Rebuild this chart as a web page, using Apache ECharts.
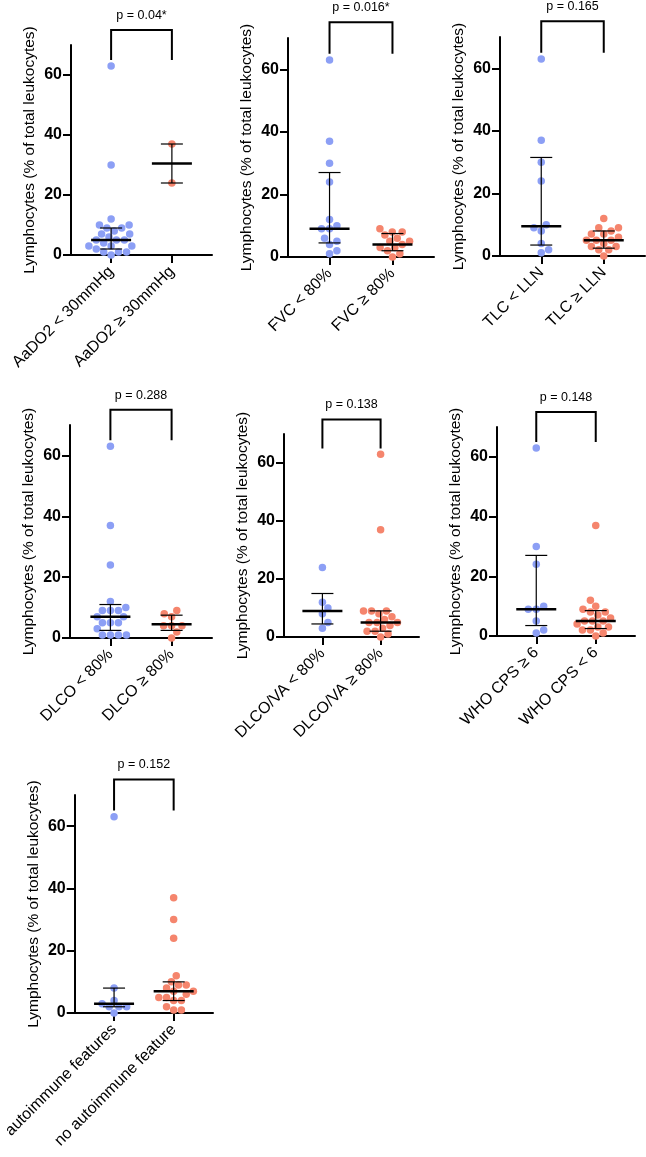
<!DOCTYPE html>
<html>
<head>
<meta charset="utf-8">
<script src="https://cdn.jsdelivr.net/npm/echarts@6/dist/echarts.min.js"></script>
<style>
html, body { margin: 0; padding: 0; background: #fff; }
#chart { width: 646px; height: 1157px; }
</style>
</head>
<body>
<div id="chart"></div>
<script>
// data
var groupNames = [
	['AaDO2 < 30mmHg', 'AaDO2 ≥ 30mmHg'],
	['FVC < 80%', 'FVC ≥ 80%'],
	['TLC < LLN', 'TLC ≥ LLN'],
	['DLCO < 80%', 'DLCO ≥ 80%'],
	['DLCO/VA < 80%', 'DLCO/VA ≥ 80%'],
	['WHO CPS ≥ 6', 'WHO CPS < 6'],
	['autoimmune features', 'no autoimmune feature']
];
var pLabels = ['p = 0.04*', 'p = 0.016*', 'p = 0.165', 'p = 0.288', 'p = 0.138', 'p = 0.148', 'p = 0.152'];

var blueValues = [
	[63, 30, 12, 10, 10, 9, 9, 8, 7, 7, 6, 5, 5, 5, 4, 3, 3, 3, 2, 1, 1, 1, 0],
	[63, 37, 30, 24, 12, 10, 9, 9, 6, 5, 4, 2, 1],
	[63, 37, 30, 24, 10, 9, 8, 4, 2, 1],
	[63, 37, 24, 12, 10, 9, 9, 9, 7, 7, 5, 5, 5, 3, 1, 1, 1, 1],
	[24, 12, 10, 8, 5, 3],
	[63, 30, 24, 10, 9, 9, 5, 2, 1],
	[63, 8, 4, 3, 2, 2, 2, 0]
];
var redValues = [
	[37, 24],
	[9, 8, 8, 7, 6, 5, 5, 4, 3, 3, 2, 1, 0],
	[12, 9, 9, 8, 7, 7, 6, 5, 5, 5, 4, 3, 3, 2, 2, 0],
	[9, 8, 7, 4, 4, 4, 2, 0],
	[63, 37, 9, 9, 9, 8, 7, 6, 5, 5, 5, 4, 3, 2, 2, 1, 0],
	[37, 12, 10, 9, 8, 8, 7, 6, 5, 5, 5, 4, 3, 3, 2, 2, 1, 0],
	[37, 30, 24, 12, 10, 9, 9, 8, 7, 7, 6, 5, 5, 4, 4, 2, 1, 1]
];
var medians = [[5, 30.5], [9, 4], [9.5, 5], [7, 4.5], [9, 5], [9, 5], [3, 7]];
var lowerBars = [[2, 24], [4.5, 2], [3.5, 2.5], [2.5, 2.5], [4.5, 2], [3.5, 2.5], [2, 4]];
var upperBars = [[9, 37], [27, 7.5], [31.5, 8], [11, 7.5], [15, 9], [27, 8.5], [8, 10]];
var yTicks = [0, 20, 40, 60];
var bracketLow = 65, bracketHigh = 75;

// panel placement (pixels)
var grids = [
	{ left: 71, top: 45, width: 141, height: 210 },
	{ left: 288, top: 38, width: 146, height: 219 },
	{ left: 500, top: 37, width: 145, height: 219 },
	{ left: 70, top: 425, width: 142, height: 213 },
	{ left: 284, top: 434, width: 135, height: 203 },
	{ left: 497, top: 427, width: 138, height: 209 },
	{ left: 70, top: 795, width: 143, height: 218 }
];

var FONT = 'Liberation Sans, Arial, Helvetica, sans-serif';
var BLUE = '#8c9ff5';
var RED = '#f5856d';
var X_MIN = 0.34, X_MAX = 2.66, Y_MAX = 70;

// simple beeswarm: horizontal offsets (data units) so dots do not overlap
var swarm = function(values, pxX, pxY) {
	var D = 8;
	var order = values.map(function(v, i) { return i; }).sort(function(a, b) { return values[a] - values[b]; });
	var placed = [];
	var offs = [];
	order.forEach(function(i, n) {
		var y = values[i] * pxY;
		var blocked = [];
		placed.forEach(function(p) {
			var dy = Math.abs(p.y - y);
			if (dy < D) {
				var dx = Math.sqrt(D * D - dy * dy);
				blocked.push([p.x - dx, p.x + dx]);
			}
		});
		var cands = [0];
		blocked.forEach(function(b) { cands.push(b[0], b[1]); });
		// near-ties go to alternating sides
		var side = n % 2 ? 1 : -1;
		cands.sort(function(a, b) {
			var d = Math.abs(a) - Math.abs(b);
			return Math.abs(d) > 0.5 ? d : (b - a) * side;
		});
		var x = 0;
		for (var k = 0; k < cands.length; k++) {
			var c = cands[k];
			var ok = blocked.every(function(b) { return c <= b[0] + 1e-6 || c >= b[1] - 1e-6; });
			if (ok) { x = c; break; }
		}
		placed.push({ x: x, y: y });
		offs[i] = x / pxX;
	});
	return offs;
};

var option = {
	backgroundColor: '#fff',
	animation: false,
	textStyle: { fontFamily: FONT, color: '#000' },
	grid: [], xAxis: [], yAxis: [], series: []
};

grids.forEach(function(g, i) {
	option.grid.push({ left: g.left, top: g.top, width: g.width, height: g.height, containLabel: false });
	var names = groupNames[i];
	option.xAxis.push({
		type: 'value', gridIndex: i, min: X_MIN, max: X_MAX,
		splitLine: { show: false },
		axisLine: { show: true, lineStyle: { color: '#000', width: 2 } },
		axisTick: { show: true, customValues: [1, 2], length: 8, lineStyle: { color: '#000', width: 2 } },
		axisLabel: {
			customValues: [1, 2], rotate: 45, margin: 14,
			fontSize: 16, color: '#000', fontFamily: FONT,
			formatter: function(v) { return names[Math.round(v) - 1]; }
		}
	});
	option.yAxis.push({
		type: 'value', gridIndex: i, min: 0, max: Y_MAX,
		name: 'Lymphocytes (% of total leukocytes)',
		nameLocation: 'middle', nameGap: 33,
		nameTextStyle: { fontSize: 15.5, color: '#000', fontFamily: FONT },
		splitLine: { show: false },
		axisLine: { show: true, lineStyle: { color: '#000', width: 2 } },
		axisTick: { show: true, customValues: yTicks, length: 8, lineStyle: { color: '#000', width: 2 } },
		axisLabel: { customValues: yTicks, margin: 9, fontSize: 16, fontWeight: 'bold', color: '#000', fontFamily: FONT }
	});

	var pxX = g.width / (X_MAX - X_MIN);
	var pxY = g.height / Y_MAX;
	[blueValues[i], redValues[i]].forEach(function(vals, k) {
		var offs = swarm(vals, pxX, pxY);
		option.series.push({
			type: 'scatter', xAxisIndex: i, yAxisIndex: i, z: 2,
			symbolSize: 7.5,
			itemStyle: { color: k === 0 ? BLUE : RED, opacity: 1 },
			data: vals.map(function(v, j) { return [k + 1 + offs[j], v]; })
		});
	});

	// median with interquartile bars
	option.series.push({
		type: 'custom', xAxisIndex: i, yAxisIndex: i, z: 4, clip: false,
		data: [1, 2].map(function(x, k) { return [x, medians[i][k], lowerBars[i][k], upperBars[i][k]]; }),
		renderItem: function(params, api) {
			var x = api.value(0);
			var pm = api.coord([x, api.value(1)]);
			var pl = api.coord([x, api.value(2)]);
			var ph = api.coord([x, api.value(3)]);
			var thin = { stroke: '#000', lineWidth: 1.2 };
			return {
				type: 'group',
				children: [
					{ type: 'line', shape: { x1: pl[0], y1: pl[1], x2: ph[0], y2: ph[1] }, style: thin },
					{ type: 'line', shape: { x1: pl[0] - 11, y1: pl[1], x2: pl[0] + 11, y2: pl[1] }, style: thin },
					{ type: 'line', shape: { x1: ph[0] - 11, y1: ph[1], x2: ph[0] + 11, y2: ph[1] }, style: thin },
					{ type: 'line', shape: { x1: pm[0] - 20, y1: pm[1], x2: pm[0] + 20, y2: pm[1] }, style: { stroke: '#000', lineWidth: 2.5 } }
				]
			};
		}
	});

	// significance bracket
	option.series.push({
		type: 'custom', xAxisIndex: i, yAxisIndex: i, z: 4, clip: false,
		data: [[1, 2, bracketLow, bracketHigh]],
		renderItem: function(params, api) {
			var a = api.coord([api.value(0), api.value(2)]);
			var b = api.coord([api.value(0), api.value(3)]);
			var c = api.coord([api.value(1), api.value(3)]);
			var d = api.coord([api.value(1), api.value(2)]);
			return {
				type: 'group',
				children: [
					{ type: 'polyline', shape: { points: [a, b, c, d] }, style: { stroke: '#000', lineWidth: 2, fill: null } },
					{ type: 'text', x: (b[0] + c[0]) / 2, y: b[1] - 8,
						style: { text: pLabels[i], fontSize: 12.5, fontFamily: FONT, fill: '#000', align: 'center', verticalAlign: 'bottom' } }
				]
			};
		}
	});
});

var chart = echarts.init(document.getElementById('chart'), null, { renderer: 'canvas' });
chart.setOption(option);
</script>
</body>
</html>
